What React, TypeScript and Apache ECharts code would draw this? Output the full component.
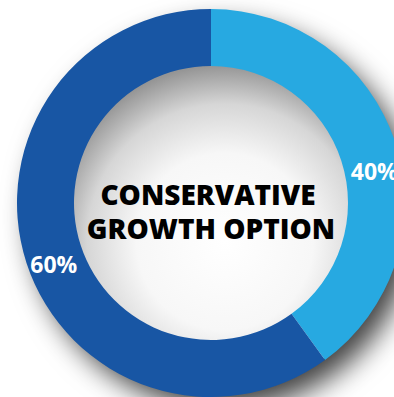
import React, { useEffect, useRef } from "react";
import * as echarts from "echarts";

const categories = ["Growth", "Conservative"];
const values = [40, 60];
const colors = ["#27a9e1", "#1856a4"];
const centerTitle = ["CONSERVATIVE", "GROWTH OPTION"];

export default function App() {
  const ref = useRef<HTMLDivElement>(null);
  useEffect(() => {
    if (!ref.current) return;
    const chart = echarts.init(ref.current, null, { renderer: "svg" });
    const cx = 211;
    const cy = 203;
    const rOut = 194;
    const rIn = 137;
    chart.setOption({
      animation: false,
      backgroundColor: "#ffffff",
      graphic: [
        {
          type: "circle",
          z: 0,
          shape: { cx, cy, r: rOut - 2 },
          style: {
            fill: "#ffffff",
            shadowBlur: 28,
            shadowColor: "rgba(0,0,0,0.75)",
            shadowOffsetX: 12,
            shadowOffsetY: 14,
          },
        },
        {
          type: "circle",
          z: 1,
          shape: { cx, cy, r: rIn + 1 },
          style: {
            fill: new echarts.graphic.RadialGradient(0.55, 0.64, 0.64, [
              { offset: 0, color: "#ffffff" },
              { offset: 0.5, color: "#f7f7f7" },
              { offset: 0.78, color: "#d6d6d6" },
              { offset: 1, color: "#959595" },
            ]),
          },
        },
        ...centerTitle.map((t, i) => ({
          type: "text",
          z: 20,
          x: 208 + i * 3,
          y: 194 + i * 34,
          style: {
            text: t,
            align: "center",
            verticalAlign: "middle",
            fontFamily: "Open Sans",
            fontWeight: 800,
            fontSize: 28,
            lineHeight: 32,
            fill: "#000000",
          },
        })),
      ],
      series: [
        {
          type: "pie",
          z: 10,
          center: [cx, cy],
          radius: [rIn, rOut],
          startAngle: 90,
          clockwise: true,
          silent: true,
          label: {
            show: true,
            position: "inside",
            formatter: (p: any) => p.value + "%",
            color: "#ffffff",
            fontFamily: "Open Sans",
            fontWeight: "bold",
            fontSize: 23,
          },
          labelLine: { show: false },
          labelLayout: (p: any) =>
            p.dataIndex === 0 ? { dx: 3, dy: 20 } : { dx: 3, dy: 9 },
          data: categories.map((name, i) => ({
            name,
            value: values[i],
            itemStyle: { color: colors[i] },
          })),
        },
      ],
    });
    return () => chart.dispose();
  }, []);
  return (
    <div
      ref={ref}
      style={{ position: "fixed", left: 0, top: 0, width: 394, height: 397 }}
    />
  );
}
